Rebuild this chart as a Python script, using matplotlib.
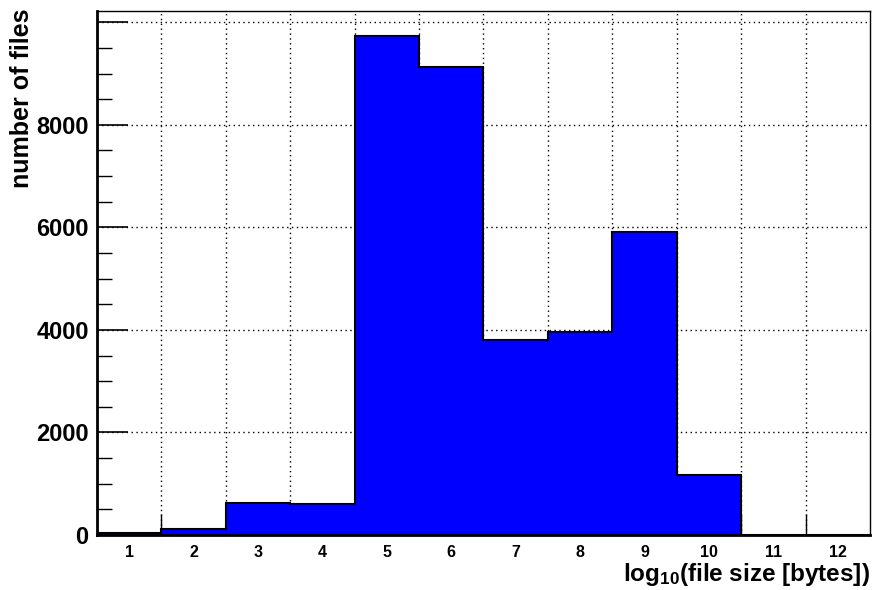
import matplotlib
matplotlib.use("Agg")
import matplotlib.pyplot as plt
import numpy as np
from matplotlib.ticker import FixedLocator, FuncFormatter, MultipleLocator

plt.rcParams["font.family"] = ["Liberation Sans", "DejaVu Sans"]
plt.rcParams["font.weight"] = "bold"
plt.rcParams["mathtext.fontset"] = "custom"
plt.rcParams["mathtext.rm"] = "Liberation Sans:bold"
plt.rcParams["mathtext.it"] = "Liberation Sans:bold"
plt.rcParams["mathtext.bf"] = "Liberation Sans:bold"

# log10 of file size per bin, and number of files in each bin
bin_labels = ["1", "2", "3", "4", "5", "6", "7", "8", "9", "10", "11", "12"]
file_counts = [33, 125, 624, 604, 9733, 9129, 3800, 3951, 5900, 1164, 0, 0]

edges = np.arange(len(bin_labels) + 1) + 0.5
centers = np.arange(1, len(bin_labels) + 1)

fig = plt.figure(figsize=(8.73, 5.9), dpi=100)
ax = fig.add_axes([97 / 873, 55 / 590, 773 / 873, 524 / 590])

ax.stairs(file_counts, edges, fill=True, color="#0000ff", zorder=2)
ax.stairs(file_counts, edges, color="black", linewidth=1.5, zorder=3)

ymax = 1.05 * max(file_counts)
ax.set_xlim(edges[0], edges[-1])
ax.set_ylim(0, ymax)

# labels sit at the bin centres, tick marks and grid at the bin edges
ax.xaxis.set_major_locator(FixedLocator(centers))
ax.set_xticklabels(bin_labels, fontsize=11.5, fontweight="bold")
ax.xaxis.set_minor_locator(FixedLocator(edges[1:-1]))
ax.tick_params(axis="x", which="major", length=0, pad=7)
ax.tick_params(axis="x", which="minor", direction="in", length=15, width=1,
               top=False)

# the topmost label would run into the frame, so it is left out
ax.yaxis.set_major_locator(MultipleLocator(2000))
ax.yaxis.set_major_formatter(
    FuncFormatter(lambda v, pos: "" if v > 0.95 * ymax else f"{v:.0f}"))
ax.yaxis.set_minor_locator(MultipleLocator(500))
ax.tick_params(axis="y", which="major", direction="in", length=22, width=1.2,
               labelsize=17, pad=6)
ax.tick_params(axis="y", which="minor", direction="in", length=11, width=1)
for lbl in ax.get_yticklabels():
    lbl.set_fontweight("bold")

ax.grid(True, axis="x", which="minor", color="black", linestyle=(0, (1, 2.5)),
        linewidth=1, zorder=1)
ax.grid(True, axis="y", which="major", color="black", linestyle=(0, (1, 2.5)),
        linewidth=1, zorder=1)
ax.set_axisbelow(True)

for side in ("left", "bottom"):
    ax.spines[side].set_linewidth(2)
    ax.spines[side].set_zorder(4)
for side in ("top", "right"):
    ax.spines[side].set_linewidth(1)

fig.text(22 / 873, 1 - 9 / 590, "number of files", rotation=90, ha="center",
         va="top", fontsize=18, fontweight="bold")
fig.text(870 / 873, 9 / 590, "log$_{10}$(file size [bytes])", ha="right",
         va="baseline", fontsize=17.5, fontweight="bold")

fig.savefig("out.png", dpi=100)
